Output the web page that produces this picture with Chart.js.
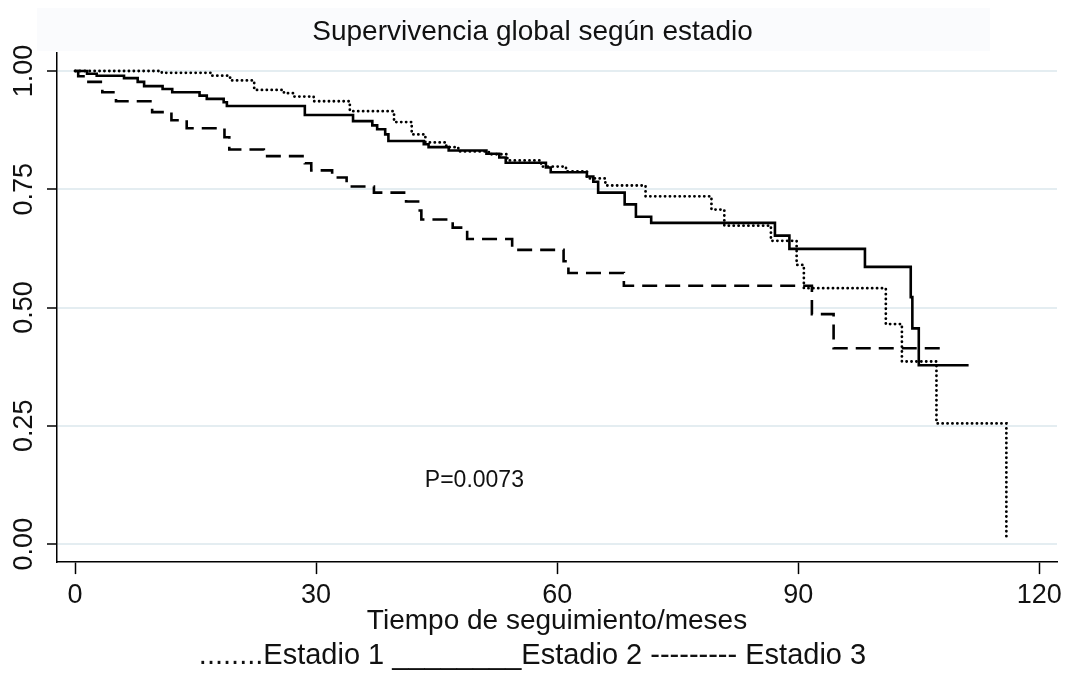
<!DOCTYPE html>
<html>
<head>
<meta charset="utf-8">
<script src="https://cdn.jsdelivr.net/npm/chart.js@4"></script>
<style>
  html, body { margin: 0; padding: 0; background: #fff; }
  #wrap { width: 1069px; height: 682px; }
</style>
</head>
<body>
<div id="wrap"><canvas id="kmChart"></canvas></div>
<script>
// tiempos (meses) y supervivencia
var est1Time = [0, 10.8, 16.9, 19.3, 22.3, 26.0, 27.3, 29.7, 34.2, 39.7, 41.9, 43.6, 46.2, 47.7, 51.5, 53.8, 58.0, 61.1, 63.7, 66.0, 71.0, 79.2, 80.8, 86.6, 89.8, 90.7, 100.9, 102.9, 107.2, 115.9];
var est1Surv = [1, 0.996, 0.99, 0.98, 0.96, 0.953, 0.946, 0.936, 0.915, 0.892, 0.866, 0.849, 0.839, 0.83, 0.824, 0.811, 0.798, 0.788, 0.773, 0.758, 0.735, 0.707, 0.673, 0.641, 0.59, 0.541, 0.465, 0.386, 0.255, 0.01];

var est2Time = [0, 1.5, 2.7, 6.1, 7.8, 8.6, 10.9, 12.1, 15.5, 16.4, 18.5, 18.9, 28.6, 34.6, 37.0, 37.6, 38.6, 39.0, 43.4, 44.0, 46.5, 51.2, 52.8, 53.6, 58.6, 59.2, 63.7, 64.5, 65.1, 68.4, 69.8, 71.7, 87.1, 88.9, 98.3, 104.0, 104.2, 105.0, 111.2];
var est2Surv = [1, 0.994, 0.99, 0.985, 0.977, 0.968, 0.962, 0.955, 0.948, 0.941, 0.934, 0.926, 0.907, 0.894, 0.885, 0.877, 0.866, 0.852, 0.845, 0.839, 0.832, 0.825, 0.817, 0.806, 0.796, 0.786, 0.777, 0.766, 0.743, 0.718, 0.692, 0.679, 0.652, 0.624, 0.586, 0.522, 0.456, 0.378, 0.378];

var est3Time = [0, 0.4, 1.4, 3.4, 5.1, 9.6, 12.0, 13.9, 18.6, 19.2, 23.5, 28.6, 29.4, 32.0, 33.8, 37.2, 41.2, 42.9, 43.1, 47.0, 48.8, 54.4, 60.8, 61.4, 68.3, 91.7, 94.4, 108.4];
var est3Surv = [1, 0.989, 0.977, 0.955, 0.936, 0.913, 0.896, 0.879, 0.86, 0.834, 0.82, 0.805, 0.79, 0.775, 0.756, 0.743, 0.724, 0.705, 0.686, 0.669, 0.645, 0.622, 0.598, 0.573, 0.546, 0.486, 0.414, 0.414];

var xTicks = [0, 30, 60, 90, 120];
var yTicks = [0, 0.25, 0.5, 0.75, 1];

var pText = "P=0.0073";
var pAt = [49.7, 0.135];

var FONT = "'Liberation Sans', Arial, sans-serif";

function toPoints(t, s) {
    return t.map(function (v, i) { return {x: v, y: s[i]}; });
}

// fondo tenue del titulo
var titleBg = {
    id: 'titleBg',
    beforeDraw: function (chart) {
        var tb = chart.titleBlock;
        var ctx = chart.ctx;
        ctx.save();
        ctx.fillStyle = '#fafbfd';
        ctx.fillRect(37, tb.top + 2, 953, tb.height - 4);
        ctx.restore();
    }
};

// texto del valor p
var pLabel = {
    id: 'pLabel',
    afterDatasetsDraw: function (chart) {
        var ctx = chart.ctx;
        ctx.save();
        ctx.font = "23px " + FONT;
        ctx.fillStyle = '#111';
        ctx.textAlign = 'center';
        ctx.textBaseline = 'middle';
        ctx.fillText(pText, chart.scales.x.getPixelForValue(pAt[0]), chart.scales.y.getPixelForValue(pAt[1]));
        ctx.restore();
    }
};

var kmData = {
    datasets: [
        {
            label: "Estadio 1",
            data: toPoints(est1Time, est1Surv),
            borderColor: "#000",
            borderWidth: 2.8,
            borderDash: [0.1, 4.8],
            borderCapStyle: 'round',
            stepped: true,
            pointRadius: 0
        },
        {
            label: "Estadio 2",
            data: toPoints(est2Time, est2Surv),
            borderColor: "#000",
            borderWidth: 2.6,
            stepped: true,
            pointRadius: 0
        },
        {
            label: "Estadio 3",
            data: toPoints(est3Time, est3Surv),
            borderColor: "#000",
            borderWidth: 2.6,
            borderDash: [15, 8],
            stepped: true,
            pointRadius: 0
        }
    ]
};

var kmOptions = {
    responsive: true,
    maintainAspectRatio: false,
    animation: false,
    layout: {padding: {left: 8, right: 12, top: 6, bottom: 10}},
    plugins: {
        legend: {display: false},
        tooltip: {enabled: false},
        title: {
            display: true,
            text: "Supervivencia global según estadio",
            color: '#111',
            font: {family: FONT, size: 28, weight: 'normal', lineHeight: 1.2},
            padding: {top: 9, bottom: 4.4}
        },
        subtitle: {
            display: true,
            position: 'bottom',
            text: "........Estadio 1 ________Estadio 2 --------- Estadio 3",
            color: '#111',
            font: {family: FONT, size: 29, weight: 'normal', lineHeight: 1.1},
            padding: {top: 0, bottom: 0}
        }
    },
    scales: {
        x: {
            type: 'linear',
            min: -2.24,
            max: 122.2,
            afterBuildTicks: function (scale) {
                scale.ticks = xTicks.map(function (v) { return {value: v}; });
            },
            afterFit: function (scale) {
                scale.height = 78;
            },
            ticks: {
                color: '#111',
                font: {family: FONT, size: 27, lineHeight: 1.2},
                padding: 5,
                maxRotation: 0,
                callback: function (v) { return v; }
            },
            grid: {drawOnChartArea: false, drawTicks: true, tickLength: 12, tickColor: '#000', tickWidth: 1.5},
            border: {color: '#000', width: 1.5},
            title: {
                display: true,
                text: "Tiempo de seguimiento/meses",
                color: '#111',
                font: {family: FONT, size: 28, lineHeight: 1.1},
                padding: {top: 0, bottom: 3}
            }
        },
        y: {
            type: 'linear',
            min: -0.038,
            max: 1.038,
            afterBuildTicks: function (scale) {
                scale.ticks = yTicks.map(function (v) { return {value: v}; });
            },
            afterFit: function (scale) {
                scale.width = 49;
            },
            ticks: {
                color: '#111',
                font: {family: FONT, size: 27},
                minRotation: 90,
                maxRotation: 90,
                crossAlign: 'center',
                padding: -4,
                callback: function (v) { return v.toFixed(2); }
            },
            grid: {color: '#e4edf1', lineWidth: 2, tickLength: 10, tickColor: '#000', tickWidth: 1.5},
            border: {color: '#000', width: 1.5}
        }
    }
};

var ctx1 = document.getElementById("kmChart").getContext("2d");
new Chart(ctx1, {type: 'line', data: kmData, options: kmOptions, plugins: [titleBg, pLabel]});
</script>
</body>
</html>
